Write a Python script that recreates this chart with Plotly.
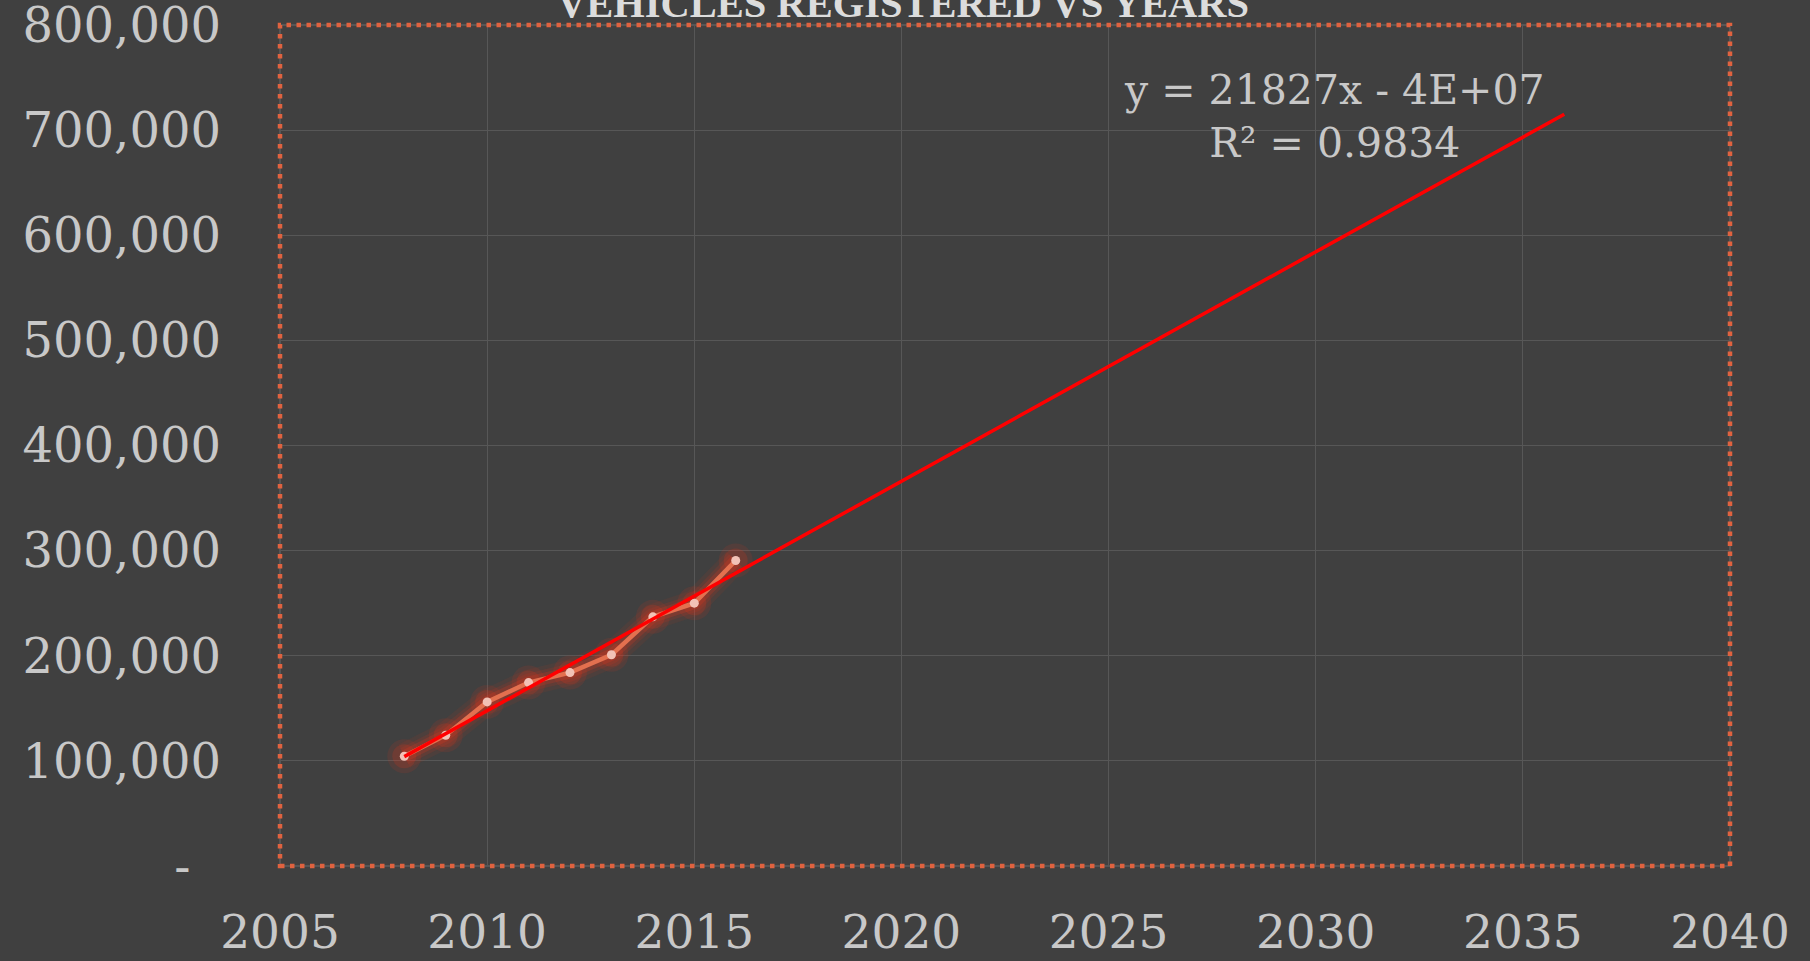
import plotly.graph_objects as go

# ---- data ----
years = [2008, 2009, 2010, 2011, 2012, 2013, 2014, 2015, 2016]
vehicles = [104450, 124400, 156100, 174500, 184000, 200900, 237000, 250000, 290600]
trend_years = [2008, 2036]          # Excel trendline: forecast forward 20 periods
trend_slope = 21827                 # from the chart's trendline label
x_ticks = [2005, 2010, 2015, 2020, 2025, 2030, 2035, 2040]
y_ticks = [0, 100000, 200000, 300000, 400000, 500000, 600000, 700000, 800000]
y_ticktext = ["-\u00a0\u00a0"] + [f"{v:,}" for v in y_ticks[1:]]
title_text = "VEHICLES REGISTERED VS YEARS"
eq_lines = ["y = 21827x - 4E+07", "R² = 0.9834"]

# least-squares trendline passes through the mean point
mx = sum(years) / len(years)
my = sum(vehicles) / len(vehicles)
trend_vals = [my + trend_slope * (x - mx) for x in trend_years]

BG = "#404040"
TXT = "#c8c8c8"
GRID = "#575757"
BORDER = "#e0623f"

fig = go.Figure()

# glow layers for data series
for w, a in [(26, 0.07), (18, 0.11), (12, 0.18)]:
    fig.add_trace(go.Scatter(x=years, y=vehicles, mode="lines",
                             line=dict(color=f"rgba(255,50,20,{a})", width=w),
                             hoverinfo="skip", showlegend=False))
for s, a in [(34, 0.10), (24, 0.16)]:
    fig.add_trace(go.Scatter(x=years, y=vehicles, mode="markers",
                             marker=dict(color=f"rgba(255,50,20,{a})", size=s, line=dict(width=0)),
                             hoverinfo="skip", showlegend=False))
# data series
fig.add_trace(go.Scatter(x=years, y=vehicles, mode="lines+markers",
                         line=dict(color="#e3704f", width=4.5),
                         marker=dict(color="#f2c2b6", size=9, line=dict(width=0)),
                         name="Vehicles", showlegend=False))
# trendline
fig.add_trace(go.Scatter(x=trend_years, y=trend_vals, mode="lines",
                         line=dict(color="#ff0000", width=3.5),
                         name="Linear trend", showlegend=False))

# plot-area border: grey solid under an orange dotted line
fig.add_shape(type="rect", xref="paper", yref="paper", x0=0, y0=0, x1=1, y1=1,
              line=dict(color="#5e5e5e", width=1.5), layer="below")
fig.add_shape(type="rect", xref="paper", yref="paper", x0=0, y0=0, x1=1, y1=1,
              line=dict(color=BORDER, width=4.5, dash="4.5px,5.5px"), layer="above")

# title (partly clipped at top, as in reference)
fig.add_annotation(text=f"<b>{title_text}</b>", xref="paper", yref="paper",
                   x=0.4295, y=1.026, xanchor="center", yanchor="middle", showarrow=False,
                   font=dict(family="Liberation Serif", size=40.5, color="#dcdcdc"))

# trendline equation
fig.add_annotation(text="<br>".join(eq_lines), x=2030.45, y=712600, xref="x", yref="y",
                   xanchor="center", yanchor="middle", showarrow=False, align="center",
                   font=dict(family="DejaVu Serif", size=41, color=TXT))

fig.update_layout(
    width=1810, height=961,
    paper_bgcolor=BG, plot_bgcolor=BG,
    margin=dict(l=280, r=80, t=25, b=95, autoexpand=False),
    font=dict(family="DejaVu Serif", color=TXT, size=40),
    showlegend=False,
)
fig.update_xaxes(range=[2005, 2040], tickvals=x_ticks, ticktext=[str(v) for v in x_ticks],
                 showgrid=True, gridcolor=GRID, gridwidth=1, zeroline=False,
                 showline=False, ticks="", ticklabelstandoff=34, ticklabeloverflow="allow",
                 tickfont=dict(family="DejaVu Serif", size=47, color=TXT))
fig.update_yaxes(range=[0, 800000], tickvals=y_ticks, ticktext=y_ticktext,
                 showgrid=True, gridcolor=GRID, gridwidth=1, zeroline=False,
                 showline=False, ticks="", ticklabelstandoff=58, ticklabeloverflow="allow",
                 tickfont=dict(family="DejaVu Serif", size=48, color=TXT))

fig.write_html("out.html",
               config={"displayModeBar": False},
               post_script="document.body.style.margin='0';document.body.style.overflow='hidden';document.body.style.background='#404040';")
